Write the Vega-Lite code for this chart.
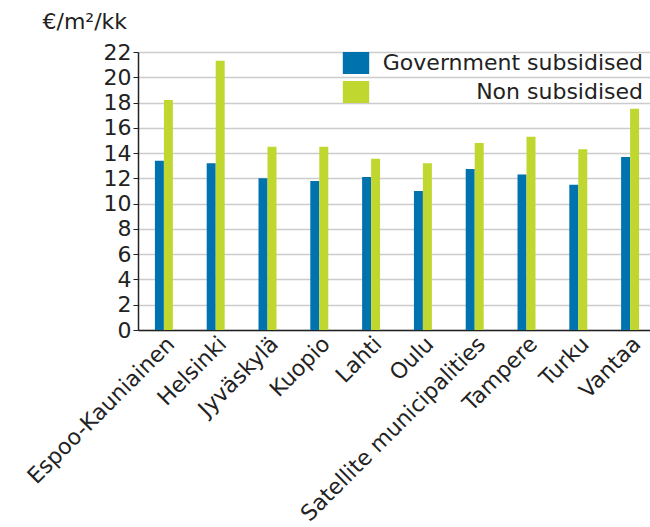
{
  "$schema": "https://vega.github.io/schema/vega-lite/v6.json",
  "width": 518,
  "height": 278,
  "autosize": {"type": "none"},
  "padding": {"left": 138, "top": 52, "right": 0, "bottom": 197},
  "background": "white",
  "config": {
    "font": "DejaVu Sans",
    "view": {"stroke": null},
    "text": {"font": "DejaVu Sans"}
  },
  "data": {
    "values": [
      {"city": "Espoo-Kauniainen", "type": "Government subsidised", "value": 13.4},
      {"city": "Espoo-Kauniainen", "type": "Non subsidised", "value": 18.2},
      {"city": "Helsinki", "type": "Government subsidised", "value": 13.2},
      {"city": "Helsinki", "type": "Non subsidised", "value": 21.3},
      {"city": "Jyväskylä", "type": "Government subsidised", "value": 12.0},
      {"city": "Jyväskylä", "type": "Non subsidised", "value": 14.5},
      {"city": "Kuopio", "type": "Government subsidised", "value": 11.8},
      {"city": "Kuopio", "type": "Non subsidised", "value": 14.5},
      {"city": "Lahti", "type": "Government subsidised", "value": 12.1},
      {"city": "Lahti", "type": "Non subsidised", "value": 13.55},
      {"city": "Oulu", "type": "Government subsidised", "value": 11.0},
      {"city": "Oulu", "type": "Non subsidised", "value": 13.2},
      {"city": "Satellite municipalities", "type": "Government subsidised", "value": 12.75},
      {"city": "Satellite municipalities", "type": "Non subsidised", "value": 14.8},
      {"city": "Tampere", "type": "Government subsidised", "value": 12.3},
      {"city": "Tampere", "type": "Non subsidised", "value": 15.3},
      {"city": "Turku", "type": "Government subsidised", "value": 11.5},
      {"city": "Turku", "type": "Non subsidised", "value": 14.3},
      {"city": "Vantaa", "type": "Government subsidised", "value": 13.7},
      {"city": "Vantaa", "type": "Non subsidised", "value": 17.5}
    ]
  },
  "mark": {"type": "bar"},
  "encoding": {
    "x": {
      "field": "city",
      "type": "nominal",
      "sort": null,
      "scale": {"paddingInner": 0.653, "paddingOuter": 0.3265},
      "axis": {
        "title": null,
        "labelAngle": -45,
        "labelAlign": "right",
        "labelBaseline": "top",
        "labelFontSize": 22,
        "labelColor": "#222222",
        "labelPadding": 3,
        "ticks": false,
        "domainColor": "#222222",
        "domainWidth": 1.5,
        "labelLimit": 400,
        "grid": false
      }
    },
    "xOffset": {"field": "type", "type": "nominal", "scale": {"paddingInner": 0, "paddingOuter": 0}},
    "y": {
      "field": "value",
      "type": "quantitative",
      "scale": {"domain": [0, 22], "nice": false},
      "axis": {
        "values": [0, 2, 4, 6, 8, 10, 12, 14, 16, 18, 20, 22],
        "title": "€/m²/kk",
        "titleAngle": 0,
        "titleAlign": "left",
        "titleBaseline": "alphabetic",
        "titleX": -96,
        "titleY": -24,
        "titleFontSize": 22,
        "titleFontWeight": "normal",
        "titleColor": "#222222",
        "labelFontSize": 22,
        "labelColor": "#222222",
        "labelOverlap": false,
        "labelPadding": 2,
        "tickSize": 5,
        "tickColor": "#222222",
        "domainColor": "#222222",
        "domainWidth": 1.5,
        "gridColor": "#cccccc",
        "gridWidth": 1.5
      }
    },
    "color": {
      "field": "type",
      "type": "nominal",
      "scale": {"domain": ["Government subsidised", "Non subsidised"], "range": ["#0072ae", "#bfd72f"]},
      "legend": {
        "title": null,
        "orient": "none",
        "legendX": 207,
        "legendY": 0,
        "symbolType": "M-1.2,-1H1.2V1H-1.2Z",
        "symbolSize": 484,
        "symbolStrokeWidth": 0,
        "labelFontSize": 22,
        "labelColor": "#222222",
        "labelAlign": "right",
        "labelOffset": 276,
        "labelLimit": 400,
        "rowPadding": 7
      }
    }
  }
}
